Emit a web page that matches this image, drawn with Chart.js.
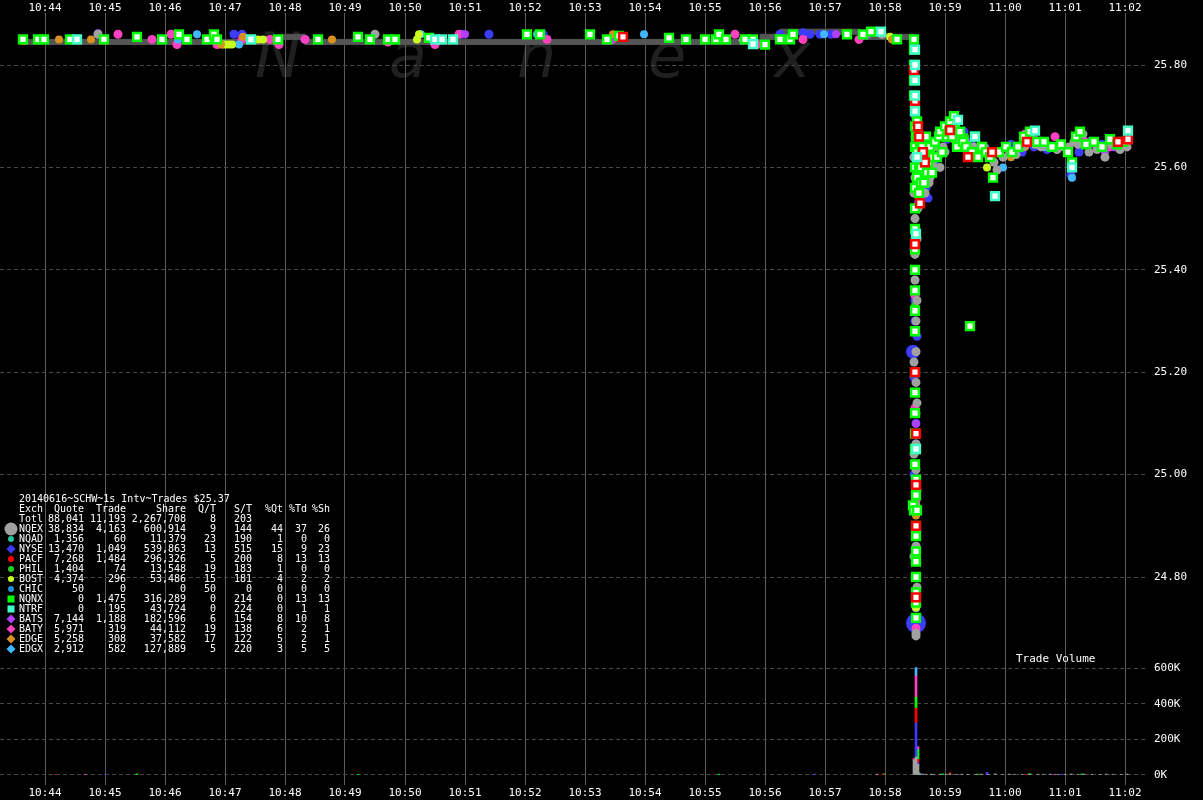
<!DOCTYPE html>
<html>
<head>
<meta charset="utf-8">
<title>SCHW 1s Interval Trades</title>
<script src="https://cdn.jsdelivr.net/npm/chart.js@4.4.1/dist/chart.umd.min.js"></script>
<style>
  html, body { margin: 0; padding: 0; background: #000; }
  #wrap { width: 1203px; height: 800px; }
</style>
</head>
<body>
<div id="wrap"><canvas id="chart" width="1203" height="800"></canvas></div>
<script>
// ---- data ----
const chartTitle = "20140616~SCHW~1s Intv~Trades $25.37";
const xTickLabels = ["10:44","10:45","10:46","10:47","10:48","10:49","10:50","10:51","10:52","10:53",
  "10:54","10:55","10:56","10:57","10:58","10:59","11:00","11:01","11:02"];
const priceTicks = [24.8, 25.0, 25.2, 25.4, 25.6, 25.8];
const volumeTicks = [0, 200000, 400000, 600000];

// NBBO band (step changes)
const nbboTimes = ["10:43:35","10:47:58","10:48:20","10:55:55","10:56:15","10:57:35","10:58:07","10:58:30"];
const nbboBid   = [25.85, 25.84, 25.85, 25.84, 25.85, 25.86, 25.85, 25.85];
const nbboAsk   = [25.86, 25.85, 25.86, 25.85, 25.86, 25.87, 25.86, 25.86];

// trades per exchange: [time, price]
const nqnxTrades = [
  ["10:43:38",25.85],["10:43:53",25.85],["10:43:59",25.85],["10:44:25",25.85],["10:44:59",25.85],["10:45:32",25.855],
  ["10:45:57",25.85],["10:46:14",25.86],["10:46:22",25.85],["10:46:42",25.85],["10:46:49",25.86],["10:46:52",25.85],
  ["10:47:53",25.85],["10:48:33",25.85],["10:49:13",25.855],["10:49:25",25.85],["10:49:43",25.85],["10:49:50",25.85],
  ["10:50:24",25.853],["10:52:02",25.86],["10:52:15",25.86],["10:53:05",25.86],["10:53:22",25.85],["10:53:34",25.857],
  ["10:54:24",25.853],["10:54:41",25.85],["10:55:00",25.85],["10:55:11",25.85],["10:55:14",25.86],["10:55:21",25.85],
  ["10:55:40",25.85],["10:55:48",25.85],["10:56:00",25.84],["10:56:15",25.85],["10:56:25",25.85],["10:56:28",25.86],
  ["10:57:22",25.86],["10:57:38",25.86],["10:57:46",25.865],["10:58:12",25.85],
  ["10:58:29",25.85],["10:58:29",25.83],["10:58:29",25.80],["10:58:29",25.77],["10:58:29",25.74],["10:58:30",25.71],
  ["10:58:30",25.68],["10:58:30",25.64],["10:58:30",25.60],["10:58:30",25.56],["10:58:30",25.52],["10:58:30",25.48],
  ["10:58:30",25.44],["10:58:30",25.40],["10:58:30",25.36],["10:58:30",25.32],["10:58:30",25.28],["10:58:30",25.20],
  ["10:58:30",25.16],["10:58:30",25.12],["10:58:30",25.08],["10:58:30",25.05],["10:58:30",25.02],["10:58:28",24.94],
  ["10:58:29",24.93],["10:58:31",24.99],["10:58:31",24.96],["10:58:32",24.93],["10:58:31",24.90],["10:58:31",24.88],
  ["10:58:31",24.85],["10:58:31",24.83],["10:58:31",24.80],["10:58:31",24.77],["10:58:31",24.75],["10:58:31",24.72],
  ["10:58:31",25.66],["10:58:32",25.69],["10:58:32",25.58],["10:58:32",25.63],["10:58:33",25.62],["10:58:33",25.66],
  ["10:58:34",25.55],["10:58:34",25.60],["10:58:35",25.65],["10:58:36",25.60],["10:58:36",25.57],["10:58:37",25.64],
  ["10:58:38",25.63],["10:58:39",25.57],["10:58:40",25.61],["10:58:41",25.66],["10:58:42",25.59],["10:58:43",25.61],
  ["10:58:44",25.63],["10:58:45",25.64],["10:58:47",25.59],["10:58:48",25.62],["10:58:50",25.65],["10:58:52",25.62],
  ["10:58:54",25.66],["10:58:55",25.67],["10:58:57",25.63],["10:59:00",25.68],["10:59:02",25.66],["10:59:04",25.67],
  ["10:59:05",25.69],["10:59:07",25.66],["10:59:09",25.70],["10:59:10",25.675],["10:59:12",25.64],["10:59:15",25.67],
  ["10:59:18",25.65],["10:59:21",25.64],["10:59:25",25.29],["10:59:27",25.63],["10:59:30",25.66],["10:59:33",25.62],
  ["10:59:37",25.64],["10:59:41",25.63],["10:59:45",25.62],["10:59:48",25.58],["10:59:54",25.63],["11:00:01",25.64],
  ["11:00:07",25.63],["11:00:13",25.64],["11:00:19",25.66],["11:00:25",25.67],["11:00:32",25.65],["11:00:39",25.65],
  ["11:00:47",25.64],["11:00:56",25.645],["11:01:03",25.63],["11:01:07",25.61],["11:01:11",25.66],["11:01:15",25.67],
  ["11:01:21",25.645],["11:01:29",25.65],["11:01:37",25.64],["11:01:45",25.655],["11:01:52",25.645],["11:01:58",25.65]
];
const nqexTrades = [
  ["10:44:53",25.86],["10:49:30",25.86],["10:55:38",25.849],["10:57:57",25.86],
  ["10:58:30",25.78],["10:58:30",25.66],["10:58:30",25.58],["10:58:30",25.50],["10:58:30",25.43],["10:58:30",25.38],
  ["10:58:31",25.30],["10:58:31",25.24],["10:58:31",25.18],["10:58:31",25.12],["10:58:31",25.06],["10:58:31",25.01],
  ["10:58:31",24.94],["10:58:31",24.90],["10:58:31",24.86],["10:58:31",24.80],["10:58:31",24.69],["10:58:31",24.685],
  ["10:58:29",25.62],["10:58:29",25.55],["10:58:32",25.46],["10:58:32",25.34],["10:58:29",25.22],["10:58:32",25.14],
  ["10:58:29",25.04],["10:58:32",24.97],["10:58:29",24.84],["10:58:32",24.78],
  ["10:58:31",25.60],["10:58:32",25.56],["10:58:33",25.52],["10:58:33",25.59],["10:58:34",25.64],["10:58:35",25.61],
  ["10:58:36",25.58],["10:58:37",25.55],["10:58:38",25.60],["10:58:39",25.63],["10:58:40",25.55],["10:58:41",25.59],
  ["10:58:42",25.62],["10:58:44",25.57],["10:58:45",25.58],["10:58:46",25.61],["10:58:48",25.62],["10:58:50",25.60],
  ["10:58:51",25.64],["10:58:53",25.62],["10:58:55",25.60],["10:58:58",25.64],["10:59:00",25.63],["10:59:02",25.66],
  ["10:59:04",25.67],["10:59:06",25.665],["10:59:08",25.68],["10:59:10",25.66],["10:59:12",25.67],["10:59:14",25.655],
  ["10:59:16",25.66],["10:59:20",25.65],["10:59:24",25.64],["10:59:29",25.64],["10:59:35",25.63],["10:59:40",25.635],
  ["10:59:44",25.62],["10:59:49",25.61],["10:59:52",25.595],["10:59:58",25.62],["11:00:05",25.63],["11:00:11",25.625],
  ["11:00:18",25.64],["11:00:24",25.655],["11:00:30",25.645],["11:00:36",25.64],["11:00:44",25.64],["11:00:52",25.635],
  ["11:00:58",25.64],["11:01:04",25.64],["11:01:09",25.65],["11:01:13",25.645],["11:01:18",25.665],["11:01:24",25.63],
  ["11:01:32",25.635],["11:01:40",25.62],["11:01:47",25.645],["11:01:55",25.635],["11:02:02",25.64]
];
const nyseTrades = [
  ["10:44:53",25.86],["10:47:09",25.86],["10:47:17",25.86],["10:48:20",25.85],["10:50:57",25.86],["10:51:24",25.86],
  ["10:52:18",25.86],["10:55:14",25.85],["10:56:15",25.86],["10:56:38",25.863],["10:56:45",25.86],["10:56:55",25.86],
  ["10:57:06",25.86],
  ["10:58:29",25.62],["10:58:30",25.55],["10:58:30",25.47],["10:58:30",25.40],["10:58:30",25.34],["10:58:30",25.30],
  ["10:58:31",25.16],["10:58:31",25.10],["10:58:31",25.06],["10:58:31",24.96],["10:58:31",24.86],["10:58:31",24.74],
  ["10:58:29",25.44],["10:58:29",25.19],["10:58:29",25.00],["10:58:32",25.27],["10:58:32",24.89],
  ["10:58:32",25.57],["10:58:33",25.53],["10:58:35",25.55],["10:58:36",25.59],["10:58:38",25.60],["10:58:41",25.56],
  ["10:58:43",25.54],["10:58:44",25.58],["10:58:49",25.61],["10:58:56",25.63],["10:59:02",25.655],["10:59:09",25.665],
  ["10:59:14",25.65],["10:59:19",25.67],["10:59:26",25.65],["10:59:32",25.63],["10:59:39",25.64],["10:59:46",25.62],
  ["10:59:52",25.63],["11:00:06",25.645],["11:00:17",25.63],["11:00:29",25.64],["11:00:42",25.635],["11:00:55",25.64],
  ["11:01:06",25.585],["11:01:14",25.63],["11:01:25",25.65],["11:01:37",25.645],["11:01:49",25.64]
];
const nyseBlockTrades = [["10:58:28",25.24],["10:58:31",24.71]];
const pacfTrades = [
  ["10:53:38",25.855],
  ["10:58:29",25.79],["10:58:30",25.73],["10:58:30",25.45],["10:58:30",25.20],["10:58:31",25.08],["10:58:31",24.98],
  ["10:58:31",24.90],["10:58:31",24.76],
  ["10:58:33",25.68],["10:58:34",25.66],["10:58:35",25.53],["10:58:38",25.63],["10:58:40",25.61],["10:59:05",25.673],
  ["10:59:23",25.62],["10:59:47",25.63],["11:00:22",25.65],["11:01:53",25.65],["11:02:03",25.655]
];
const batyTrades = [
  ["10:45:13",25.86],["10:45:47",25.85],["10:46:06",25.86],["10:46:12",25.84],["10:46:52",25.84],["10:47:17",25.85],
  ["10:47:45",25.85],["10:47:54",25.84],["10:48:20",25.85],["10:49:43",25.845],["10:50:30",25.84],["10:50:48",25.85],
  ["10:50:54",25.86],["10:52:22",25.85],["10:53:27",25.85],["10:55:30",25.86],["10:55:52",25.84],["10:56:15",25.85],
  ["10:56:38",25.85],["10:57:34",25.85],
  ["10:58:30",25.35],["10:58:30",25.13],["10:58:31",24.95],["10:58:31",24.75],["10:58:31",24.70],
  ["10:58:33",25.59],["10:58:40",25.62],["10:59:10",25.66],["10:59:35",25.64],["11:00:20",25.665],["11:00:50",25.66],
  ["11:01:20",25.65],["11:01:45",25.64]
];
const batsTrades = [
  ["10:44:53",25.862],["10:51:00",25.86],["10:53:26",25.85],["10:57:11",25.86],["10:57:42",25.858],
  ["10:58:30",25.70],["10:58:30",25.48],["10:58:31",25.10],["10:58:31",24.90],["10:58:31",24.69],
  ["10:58:33",25.60],["10:58:36",25.56],["10:58:44",25.59],["10:59:05",25.68],["10:59:13",25.67],["10:59:40",25.64],
  ["11:00:30",25.655],["11:01:25",25.645],["11:01:40",25.63],["11:01:50",25.64]
];
const edgxTrades = [
  ["10:46:13",25.85],["10:46:32",25.86],["10:47:14",25.84],["10:50:16",25.86],["10:52:12",25.86],["10:53:59",25.86],
  ["10:56:59",25.86],
  ["10:58:30",25.56],["10:58:31",25.02],["10:58:31",24.84],["10:58:30",25.38],
  ["10:58:35",25.57],["10:58:47",25.60],["10:59:58",25.60],["11:00:40",25.64],["11:01:07",25.58]
];
const edgeTrades = [
  ["10:43:39",25.847],["10:44:14",25.85],["10:44:46",25.85],["10:46:56",25.84],["10:47:18",25.855],["10:48:47",25.85],
  ["10:49:25",25.85],["10:53:28",25.86],["10:58:07",25.85],
  ["10:58:31",24.92],["11:00:06",25.62],["11:00:20",25.64]
];
const bostTrades = [
  ["10:46:58",25.84],["10:47:01",25.84],["10:47:04",25.84],["10:47:07",25.84],["10:47:33",25.85],["10:47:38",25.85],
  ["10:50:12",25.85],["10:50:14",25.86],["10:56:22",25.85],["10:58:05",25.855],
  ["10:58:31",24.74],["10:58:45",25.62],["10:59:09",25.655],["10:59:42",25.60]
];
const ntrfTrades = [
  ["10:44:32",25.85],["10:47:26",25.85],["10:50:30",25.85],["10:50:37",25.85],["10:50:48",25.85],["10:55:48",25.841],
  ["10:57:56",25.865],
  ["10:58:30",25.83],["10:58:30",25.80],["10:58:30",25.77],["10:58:30",25.74],["10:58:30",25.71],["10:58:31",25.47],
  ["10:58:31",25.05],
  ["10:58:32",25.62],["10:59:13",25.693],["10:59:30",25.66],["10:59:50",25.544],["11:00:30",25.672],["11:01:07",25.60],
  ["11:02:03",25.672]
];
const philTrades = [["10:58:30",25.33],["10:58:37",25.60],["10:59:20",25.66]];
const nqadTrades = [["10:58:31",25.58],["10:58:46",25.63]];

// trade volume per second: [time, shares]
const volNqex = [
  ["10:58:29",84000],["10:58:31",101000],["10:58:33",60000],["10:58:35",7000],["10:58:38",5000],["10:58:41",4000],
  ["10:58:46",5000],["10:58:49",4000],["10:58:55",5000],["10:59:01",4000],["10:59:05",6000],["10:59:12",4000],
  ["10:59:17",5000],["10:59:23",4000],["10:59:31",4000],["10:59:36",5000],["10:59:43",4000],["10:59:50",6000],
  ["10:59:57",4000],["11:00:04",5000],["11:00:09",4000],["11:00:17",4000],["11:00:24",5000],["11:00:33",4000],
  ["11:00:38",4000],["11:00:45",5000],["11:00:53",4000],["11:01:00",4000],["11:01:06",6000],["11:01:13",4000],
  ["11:01:19",5000],["11:01:27",4000],["11:01:35",4000],["11:01:41",5000],["11:01:48",4000],["11:01:56",4000],
  ["11:02:02",5000]
];
const volNyse = [["10:45:00",4000],["10:56:50",5000],["10:58:31",190000],["10:58:33",8000],["10:58:36",6000],["10:59:42",14000],["11:00:57",5000]];
const volPacf = [["10:44:10",3000],["10:57:58",5000],["10:58:31",84000],["10:58:33",20000],["10:59:05",6000],["11:00:22",4000]];
const volNqnx = [["10:45:32",6000],["10:49:13",4000],["10:55:14",5000],["10:57:59",6000],["10:58:31",62000],["10:58:33",55000],
  ["10:58:34",12000],["10:58:58",6000],["10:59:33",5000],["11:00:25",7000],["11:01:17",6000]];
const volBaty = [["10:44:40",4000],["10:57:52",5000],["10:58:29",8000],["10:58:31",120000],["10:58:33",16000],["11:00:50",4000]];
const volEdgx = [["10:58:31",45000]];

// exchange summary table
const exchNames  = ["NQEX","NQAD","NYSE","PACF","PHIL","BOST","CHIC","NQNX","NTRF","BATS","BATY","EDGE","EDGX"];
const exchQuotes = [38834,1356,13470,7268,1404,4374,50,0,0,7144,5971,5258,2912];
const exchTrades = [4163,60,1049,1484,74,296,0,1475,195,1188,319,308,582];
const exchShares = [600914,11379,539863,296326,13548,53486,0,316289,43724,182596,44112,37582,127889];
const exchQT     = [9,23,13,5,19,15,50,0,0,6,19,17,5];
const exchST     = [144,190,515,200,183,181,0,214,224,154,138,122,220];
const exchPctQt  = [44,1,15,8,1,4,0,0,0,8,6,5,3];
const exchPctTd  = [37,0,9,13,0,2,0,13,1,10,2,2,5];
const exchPctSh  = [26,0,23,13,0,2,0,13,1,8,1,1,5];
const totalRow   = [88041,11193,2267708,8,203];

// ---- styles ----
const exchColor = {
  NQEX: "#a0a0a0", NQAD: "#20c8a0", NYSE: "#3c3cff", PACF: "#ff0000", PHIL: "#20d020", BOST: "#c8ff20",
  CHIC: "#2090d8", NQNX: "#00ff00", NTRF: "#40ffc8", BATS: "#b040ff", BATY: "#ff40c0", EDGE: "#d89020", EDGX: "#40b8ff"
};
const legendShape = {
  NQEX: "big", NQAD: "dot", NYSE: "diamond", PACF: "dot", PHIL: "dot", BOST: "dot", CHIC: "dot",
  NQNX: "square", NTRF: "square", BATS: "diamond", BATY: "diamond", EDGE: "diamond", EDGX: "diamond"
};
const MONO = '"DejaVu Sans Mono", monospace';

const sec = t => { const p = t.split(":").map(Number); return p[0] * 3600 + p[1] * 60 + (p[2] || 0); };
const toPts = arr => arr.map(([t, v]) => ({ x: sec(t), y: v }));
const fmtTime = v => { const h = Math.floor(v / 3600), m = Math.floor((v % 3600) / 60); return h + ":" + String(m).padStart(2, "0"); };

function dotSet(label, trades, r) {
  return { label, data: toPts(trades), pointStyle: "circle", pointRadius: r || 4, pointBorderWidth: 0,
    backgroundColor: exchColor[label], borderColor: exchColor[label], yAxisID: "y", order: 5 };
}
function boxSet(label, trades) {
  return { label, data: toPts(trades), pointStyle: "rect", pointRadius: 5.5, pointBorderWidth: 2.5,
    backgroundColor: "#ffffff", borderColor: exchColor[label], yAxisID: "y", order: 4 };
}
function volSet(label, vols) {
  return { type: "bar", label: label + " vol", data: toPts(vols), backgroundColor: exchColor[label],
    barThickness: 2, stack: "vol", yAxisID: "yv", order: 10 };
}

const datasets = [
  { type: "line", label: "bid", data: nbboTimes.map((t, i) => ({ x: sec(t), y: nbboBid[i] })), stepped: "after",
    borderColor: "#555", borderWidth: 1, pointRadius: 0, fill: false, yAxisID: "y", order: 100 },
  { type: "line", label: "ask", data: nbboTimes.map((t, i) => ({ x: sec(t), y: nbboAsk[i] })), stepped: "after",
    borderColor: "#555", borderWidth: 1, pointRadius: 0, fill: "-1", backgroundColor: "#555", yAxisID: "y", order: 99 },
  dotSet("NQEX", nqexTrades, 4.5),
  dotSet("NQAD", nqadTrades),
  dotSet("PHIL", philTrades),
  dotSet("EDGE", edgeTrades),
  dotSet("BOST", bostTrades),
  dotSet("EDGX", edgxTrades),
  dotSet("BATS", batsTrades),
  dotSet("BATY", batyTrades, 4.5),
  dotSet("NYSE", nyseTrades, 4.5),
  boxSet("NTRF", ntrfTrades),
  boxSet("PACF", pacfTrades),
  boxSet("NQNX", nqnxTrades),
  { label: "NYSE block", data: toPts(nyseBlockTrades), pointStyle: "circle", pointRadius: [7, 10], pointBorderWidth: 0,
    backgroundColor: exchColor.NYSE, yAxisID: "y", order: 6 },
  volSet("NQEX", volNqex),
  volSet("NYSE", volNyse),
  volSet("PACF", volPacf),
  volSet("NQNX", volNqnx),
  volSet("BATY", volBaty),
  volSet("EDGX", volEdgx)
];

// ---- plugins ----
const watermark = {
  id: "watermark",
  beforeDraw(chart) {
    const ctx = chart.ctx;
    ctx.save();
    ctx.font = 'italic 62px "DejaVu Sans", sans-serif';
    ctx.fillStyle = "#202020";
    ctx.textBaseline = "alphabetic";
    [["N", 255], ["a", 389], ["n", 517], ["e", 648], ["x", 774]].forEach(([c, x]) => ctx.fillText(c, x, 77));
    ctx.restore();
  }
};

function drawMarker(ctx, shape, color, x, y) {
  ctx.fillStyle = color;
  ctx.beginPath();
  if (shape === "big") ctx.arc(x, y, 6.5, 0, Math.PI * 2);
  else if (shape === "dot") ctx.arc(x, y, 3, 0, Math.PI * 2);
  else if (shape === "square") ctx.rect(x - 3.5, y - 3.5, 7, 7);
  else { ctx.moveTo(x, y - 4.5); ctx.lineTo(x + 4.5, y); ctx.lineTo(x, y + 4.5); ctx.lineTo(x - 4.5, y); ctx.closePath(); }
  ctx.fill();
}

const exchTable = {
  id: "exchTable",
  afterDraw(chart) {
    const ctx = chart.ctx;
    const colRight = [84, 126, 186, 216, 252, 283, 307, 330];
    const fmt = n => n.toLocaleString("en-US");
    const row = (y, name, cells) => {
      ctx.textAlign = "left";
      ctx.fillText(name, 19, y);
      ctx.textAlign = "right";
      cells.forEach((c, i) => { if (c !== "") ctx.fillText(c, colRight[i], y); });
    };
    ctx.save();
    ctx.font = "10px " + MONO;
    ctx.fillStyle = "#ffffff";
    ctx.textBaseline = "middle";
    ctx.textAlign = "left";
    ctx.fillText(chartTitle, 19, 499);
    row(509, "Exch", ["Quote", "Trade", "Share", "Q/T", "S/T", "%Qt", "%Td", "%Sh"]);
    row(519, "Totl", [fmt(totalRow[0]), fmt(totalRow[1]), fmt(totalRow[2]), String(totalRow[3]), String(totalRow[4]), "", "", ""]);
    exchNames.forEach((name, i) => {
      const y = 529 + i * 10;
      row(y, name, [fmt(exchQuotes[i]), fmt(exchTrades[i]), fmt(exchShares[i]), String(exchQT[i]), String(exchST[i]),
        String(exchPctQt[i]), String(exchPctTd[i]), String(exchPctSh[i])]);
      drawMarker(ctx, legendShape[name], exchColor[name], 11, y);
      ctx.fillStyle = "#ffffff";
    });
    // volume panel caption
    const yv = chart.scales.yv;
    ctx.font = "11px " + MONO;
    ctx.textAlign = "left";
    ctx.fillText("Trade Volume", 1016, yv.getPixelForValue(650000));
    ctx.restore();
  }
};

// ---- chart ----
const xMin = sec("10:43:15"), xMax = sec("11:02:23");
const tickFont = { family: MONO, size: 11 };
const xAxis = (position, showGrid, h, pad) => ({
  type: "linear", position, min: xMin, max: xMax, offset: false,
  afterBuildTicks: s => { s.ticks = xTickLabels.map(l => ({ value: sec(l) })); },
  afterFit: s => { s.height = h; s.paddingLeft = 0; s.paddingRight = 0; },
  ticks: { color: "#fff", font: tickFont, padding: pad, maxRotation: 0, autoSkip: false, callback: v => fmtTime(v) },
  grid: { display: showGrid, offset: false, color: "#5e5e5e", drawTicks: false },
  border: { display: false }
});
const yFit = s => { s.width = 55; s.paddingTop = 0; s.paddingBottom = 0; };

new Chart(document.getElementById("chart"), {
  type: "scatter",
  data: { datasets },
  options: {
    responsive: false,
    animation: false,
    devicePixelRatio: 1,
    layout: { padding: 0, autoPadding: false },
    plugins: { legend: { display: false }, tooltip: { enabled: false } },
    scales: {
      x: xAxis("bottom", true, 15, 2),
      xTop: xAxis("top", false, 13, -2),
      y: {
        type: "linear", position: "right", stack: "right", stackWeight: 637,
        min: 24.657422, max: 25.901563,
        afterBuildTicks: s => { s.ticks = priceTicks.map(v => ({ value: v })); },
        afterFit: yFit,
        ticks: { color: "#fff", font: tickFont, padding: 6, callback: v => v.toFixed(2) },
        grid: { color: "#484848", drawTicks: false },
        border: { display: false, dash: [4, 3] }
      },
      yv: {
        type: "linear", position: "right", stack: "right", stackWeight: 135, stacked: true,
        min: -56075, max: 700935,
        afterBuildTicks: s => { s.ticks = volumeTicks.map(v => ({ value: v })); },
        afterFit: yFit,
        ticks: { color: "#fff", font: tickFont, padding: 6, callback: v => Math.round(v / 1000) + "K" },
        grid: { color: "#484848", drawTicks: false },
        border: { display: false, dash: [4, 3] }
      }
    }
  },
  plugins: [watermark, exchTable]
});
</script>
</body>
</html>
